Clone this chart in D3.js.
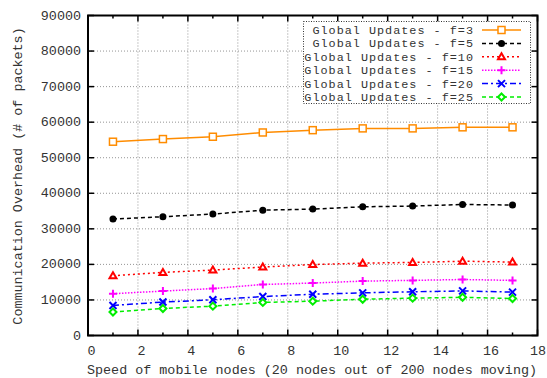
<!DOCTYPE html>
<html>
<head>
<meta charset="utf-8">
<script src="https://cdn.jsdelivr.net/npm/d3@7"></script>
<style>
  body { margin: 0; background: #fff; }
  text { font-family: "Liberation Mono", "DejaVu Sans Mono", monospace; font-size: 13.4px; fill: #333; }
  .legend text { font-size: 11.8px; letter-spacing: 1px; }
</style>
</head>
<body>
<svg id="chart" width="547" height="378"></svg>
<script>
// speeds along the x axis
const speeds = [1, 3, 5, 7, 9, 11, 13, 15, 17];

// overhead per update frequency
const f3  = [54500, 55250, 55900, 57100, 57750, 58250, 58250, 58550, 58550];
const f5  = [32750, 33400, 34150, 35250, 35550, 36200, 36400, 36850, 36700];
const f10 = [16800, 17750, 18400, 19250, 19950, 20350, 20550, 20900, 20650];
const f15 = [11750, 12500, 13200, 14350, 14750, 15300, 15500, 15750, 15500];
const f20 = [8450, 9400, 10050, 10950, 11600, 12000, 12300, 12550, 12200];
const f25 = [6600, 7600, 8250, 9300, 9650, 10200, 10500, 10750, 10400];

const seriesNames = ["Global Updates - f=3", "Global Updates - f=5", "Global Updates - f=10",
                     "Global Updates - f=15", "Global Updates - f=20", "Global Updates - f=25"];
const seriesValues = [f3, f5, f10, f15, f20, f25];

const xTicks = [0, 2, 4, 6, 8, 10, 12, 14, 16, 18];
const yTicks = [0, 10000, 20000, 30000, 40000, 50000, 60000, 70000, 80000, 90000];

// look of each line: colour, dash, marker
const styles = [
  { color: "#ff8c00", dash: null,          marker: "square" },
  { color: "#000000", dash: "4,3",         marker: "dot" },
  { color: "#ff0000", dash: "2,3",         marker: "triangle" },
  { color: "#ff00ff", dash: "1.5,1.5",     marker: "plus" },
  { color: "#0000ff", dash: "6,3,2,3",     marker: "cross" },
  { color: "#00ee00", dash: "4,3",         marker: "diamond" }
];

const svg = d3.select("#chart");
const pLeft = 88, pRight = 537.5, pTop = 15.5, pBottom = 335.5;

const x = d3.scaleLinear().domain([0, 18]).range([pLeft, pRight]);
const y = d3.scaleLinear().domain([0, 90000]).range([pBottom, pTop]);

// grid
const grid = svg.append("g").attr("stroke", "#888").attr("stroke-width", 0.9).attr("stroke-dasharray", "1,2");
grid.selectAll("line.v").data(xTicks.slice(1, -1)).enter().append("line")
    .attr("x1", d => x(d)).attr("x2", d => x(d)).attr("y1", pTop).attr("y2", pBottom);
grid.selectAll("line.h").data(yTicks.slice(1, -1)).enter().append("line")
    .attr("x1", pLeft).attr("x2", pRight).attr("y1", d => y(d)).attr("y2", d => y(d));

// ticks (inward, all four sides)
const ticks = svg.append("g").attr("stroke", "#000").attr("stroke-width", 1.5);
yTicks.forEach(v => {
    ticks.append("line").attr("x1", pLeft).attr("x2", pLeft + 6).attr("y1", y(v)).attr("y2", y(v));
    ticks.append("line").attr("x1", pRight).attr("x2", pRight - 6).attr("y1", y(v)).attr("y2", y(v));
});
d3.range(0, 19).forEach(v => {
    const len = v % 2 === 0 ? 6 : 3;
    ticks.append("line").attr("x1", x(v)).attr("x2", x(v)).attr("y1", pBottom).attr("y2", pBottom - len);
    ticks.append("line").attr("x1", x(v)).attr("x2", x(v)).attr("y1", pTop).attr("y2", pTop + len);
});

// tick labels
svg.append("g").selectAll("text").data(yTicks).enter().append("text")
    .attr("x", 81).attr("y", d => y(d) + 4).attr("text-anchor", "end").text(d => d);
// last label would run off the edge, so pin its end to the border
svg.append("g").selectAll("text").data(xTicks).enter().append("text")
    .attr("x", d => d === 18 ? 546 : x(d) + 3.5).attr("y", 355)
    .attr("text-anchor", d => d === 18 ? "end" : "middle").text(d => d);

// axis titles
svg.append("text").attr("x", 312).attr("y", 374).attr("text-anchor", "middle")
    .text("Speed of mobile nodes (20 nodes out of 200 nodes moving)");
svg.append("text").attr("transform", "translate(22,176) rotate(-90)").attr("text-anchor", "middle")
    .text("Communication Overhead (# of packets)");

function drawMarker(g, kind, cx, cy, color) {
    const s = 3.5;
    if (kind === "square") {
        g.append("rect").attr("x", cx - s).attr("y", cy - s).attr("width", 2 * s).attr("height", 2 * s)
            .attr("fill", "#fff").attr("stroke", color).attr("stroke-width", 1.5);
    } else if (kind === "dot") {
        g.append("circle").attr("cx", cx).attr("cy", cy).attr("r", 3.5).attr("fill", color);
    } else if (kind === "triangle") {
        g.append("path").attr("d", `M${cx},${cy - 3.5}L${cx + 3.5},${cy + 2.5}L${cx - 3.5},${cy + 2.5}Z`)
            .attr("fill", "#fff").attr("stroke", color).attr("stroke-width", 2);
    } else if (kind === "plus") {
        g.append("path").attr("d", `M${cx - 4},${cy}H${cx + 4}M${cx},${cy - 4}V${cy + 4}`)
            .attr("stroke", color).attr("stroke-width", 2);
    } else if (kind === "cross") {
        g.append("path").attr("d", `M${cx - 3.5},${cy - 3.5}L${cx + 3.5},${cy + 3.5}M${cx - 3.5},${cy + 3.5}L${cx + 3.5},${cy - 3.5}`)
            .attr("stroke", color).attr("stroke-width", 2);
    } else if (kind === "diamond") {
        g.append("path").attr("d", `M${cx},${cy - 3.5}L${cx + 3.5},${cy}L${cx},${cy + 3.5}L${cx - 3.5},${cy}Z`)
            .attr("fill", "#fff").attr("stroke", color).attr("stroke-width", 2);
    }
}

// series lines and markers
const line = d3.line().x((d, i) => x(speeds[i])).y(d => y(d));
seriesValues.forEach((vals, k) => {
    const st = styles[k];
    const g = svg.append("g");
    g.append("path").datum(vals).attr("d", line).attr("fill", "none")
        .attr("stroke", st.color).attr("stroke-width", 1.5)
        .attr("stroke-dasharray", st.dash);
    vals.forEach((v, i) => drawMarker(g, st.marker, x(speeds[i]), y(v), st.color));
});

// legend
const lg = svg.append("g").attr("class", "legend");
lg.append("rect").attr("x", 303.5).attr("y", 21.5).attr("width", 227).attr("height", 82)
    .attr("fill", "#fff").attr("stroke", "#000").attr("stroke-width", 0.8).attr("stroke-dasharray", "1,1.5");
seriesNames.forEach((name, k) => {
    const st = styles[k];
    const cy = 30 + k * 13.4;
    lg.append("text").attr("x", 474).attr("y", cy + 4).attr("text-anchor", "end").text(name);
    lg.append("line").attr("x1", 482).attr("x2", 521).attr("y1", cy).attr("y2", cy)
        .attr("stroke", st.color).attr("stroke-width", 1.5).attr("stroke-dasharray", st.dash);
    drawMarker(lg, st.marker, 501.5, cy, st.color);
});

// frame
svg.append("rect").attr("x", pLeft).attr("y", pTop).attr("width", pRight - pLeft).attr("height", pBottom - pTop)
    .attr("fill", "none").attr("stroke", "#000").attr("stroke-width", 2);
</script>
</body>
</html>
